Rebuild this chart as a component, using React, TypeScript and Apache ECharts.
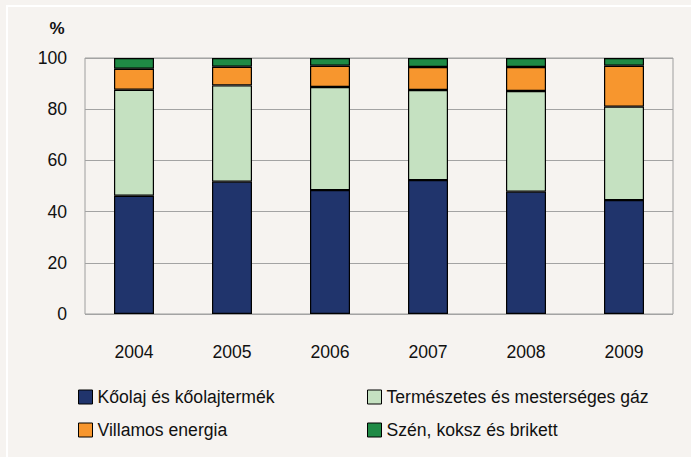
import React, { useEffect, useRef } from "react";
import * as echarts from "echarts";

const years = ["2004", "2005", "2006", "2007", "2008", "2009"];
const koolaj = [46.2, 51.7, 48.4, 52.3, 47.8, 44.5];
const gaz = [41.4, 37.6, 40.3, 35.2, 39.3, 36.5];
const villamos = [8.2, 7.3, 8.3, 9.0, 9.4, 16.0];
const szen = [4.2, 3.4, 3.0, 3.5, 3.5, 3.0];
const yTicks = [0, 20, 40, 60, 80, 100];

const names = [
  "Kőolaj és kőolajtermék",
  "Természetes és mesterséges gáz",
  "Villamos energia",
  "Szén, koksz és brikett",
];
const colors = ["#20346c", "#c5e1c1", "#f7962e", "#1f8a45"];
const seriesData = [koolaj, gaz, villamos, szen];

export default function App() {
  const ref = useRef<HTMLDivElement>(null);
  useEffect(() => {
    if (!ref.current) return;
    const chart = echarts.init(ref.current, null, { renderer: "svg" });
    const font = "'Liberation Sans', Arial, sans-serif";
    const fs = 17.6;
    chart.setOption({
      animation: false,
      backgroundColor: "#f6f3f0",
      textStyle: { fontFamily: font },
      grid: {
        left: 85,
        top: 58,
        right: 18,
        bottom: 143,
        show: true,
        borderColor: "#9e9e9e",
        borderWidth: 1,
        backgroundColor: "transparent",
      },
      graphic: [
        { type: "rect", shape: { x: 6, y: 5, width: 700, height: 2 }, style: { fill: "#ffffff" } },
        { type: "rect", shape: { x: 6, y: 5, width: 2, height: 470 }, style: { fill: "#ffffff" } },
        {
          type: "text",
          x: 57,
          y: 28,
          style: {
            text: "%",
            fontSize: 17,
            fontWeight: "bold",
            fontFamily: font,
            fill: "#111",
            align: "center",
            verticalAlign: "middle",
          },
        },
      ],
      legend: [
        {
          data: [names[0], names[2]],
          orient: "vertical",
          left: 78,
          top: 388,
          itemWidth: 14,
          itemHeight: 14,
          itemGap: 15,
          icon: "rect",
          itemStyle: { borderColor: "#000", borderWidth: 1 },
          textStyle: { fontSize: fs, color: "#111", fontFamily: font },
          padding: 0,
        },
        {
          data: [names[1], names[3]],
          orient: "vertical",
          left: 367,
          top: 388,
          itemWidth: 14,
          itemHeight: 14,
          itemGap: 15,
          icon: "rect",
          itemStyle: { borderColor: "#000", borderWidth: 1 },
          textStyle: { fontSize: fs, color: "#111", fontFamily: font },
          padding: 0,
        },
      ],
      xAxis: {
        type: "category",
        data: years,
        axisLine: { show: false },
        axisTick: { show: false },
        axisLabel: { fontSize: fs, color: "#111", margin: 29, fontFamily: font },
      },
      yAxis: {
        type: "value",
        min: yTicks[0],
        max: yTicks[yTicks.length - 1],
        interval: 20,
        axisLine: { show: false },
        axisTick: { show: false },
        axisLabel: { fontSize: fs, color: "#111", margin: 18, fontFamily: font },
        splitLine: { lineStyle: { color: "#a3a3a3", width: 1 } },
      },
      series: seriesData.map((d, i) => ({
        name: names[i],
        type: "bar",
        stack: "total",
        barWidth: 40,
        data: d,
        itemStyle: { color: colors[i], borderColor: "#000", borderWidth: 1.2 },
      })),
    });
    return () => chart.dispose();
  }, []);
  return (
    <div
      ref={ref}
      style={{ position: "fixed", left: 0, top: 0, width: 691, height: 457 }}
    />
  );
}
